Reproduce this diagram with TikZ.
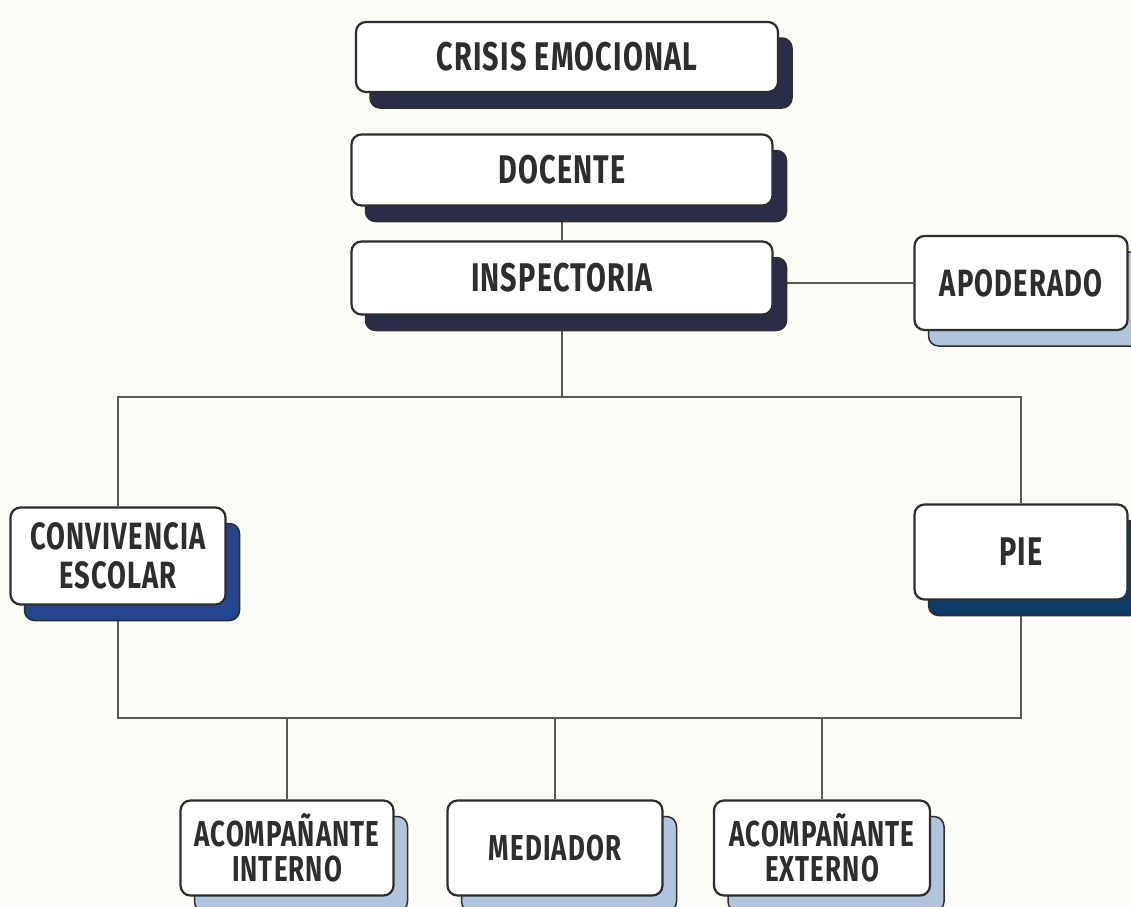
\documentclass[tikz,border=0pt]{standalone}
\usepackage{fontspec}
\setmainfont{Fira Sans}
\newfontfamily\boxfont[FakeStretch=0.72,LetterSpace=3]{Fira Sans}
\usetikzlibrary{shadows,backgrounds}
\definecolor{navy}{HTML}{2B2D47}
\definecolor{royal}{HTML}{26458F}
\definecolor{deepblue}{HTML}{0F3B68}
\definecolor{pale}{HTML}{B2C4DC}
\definecolor{ink}{HTML}{2E2E2E}
\definecolor{paper}{HTML}{FCFCF7}

\tikzset{
  card/.style={draw=ink, line width=2.2pt, fill=white, rounded corners=10pt,
    text=ink, align=center, inner sep=0pt,
    font=\boxfont\bfseries\fontsize{38}{39}\selectfont},
  shade/.style={copy shadow={shadow xshift=14pt, shadow yshift=-16pt,
    fill=#1, draw=ink, line width=1.5pt}},
  link/.style={draw=ink!80, line width=1.3pt}
}

\begin{document}
\begin{tikzpicture}[x=1pt, y=-1pt]
\useasboundingbox (0,0) rectangle (1131,906);

\node[card, shade=navy, minimum width=422pt, minimum height=70pt,
  font=\boxfont\bfseries\fontsize{40}{40}\selectfont] (crisis) at (567,57) {CRISIS EMOCIONAL};
\node[card, shade=navy, minimum width=421pt, minimum height=71pt,
  font=\boxfont\bfseries\fontsize{40}{40}\selectfont] (docente) at (562,170) {DOCENTE};
\node[card, shade=navy, minimum width=421pt, minimum height=73pt,
  font=\boxfont\bfseries\fontsize{40}{40}\selectfont] (insp) at (562,278) {INSPECTORIA};
\node[card, shade=pale, minimum width=213pt, minimum height=94pt] (apod) at (1021,283) {APODERADO};

\node[card, shade=royal, minimum width=215pt, minimum height=97pt] (conv) at (118,556) {CONVIVENCIA\\ESCOLAR};
\node[card, shade=deepblue, minimum width=213pt, minimum height=95pt,
  font=\boxfont\bfseries\fontsize{40}{40}\selectfont] (pie) at (1021,552) {PIE};

\node[card, shade=pale, minimum width=213pt, minimum height=95pt,
  font=\boxfont\bfseries\fontsize{36}{35}\selectfont] (aint) at (287,848) {ACOMPAÑANTE\\INTERNO};
\node[card, shade=pale, minimum width=215pt, minimum height=95pt,
  font=\boxfont\bfseries\fontsize{36}{35}\selectfont] (med) at (555,848) {MEDIADOR};
\node[card, shade=pale, minimum width=216pt, minimum height=95pt,
  font=\boxfont\bfseries\fontsize{36}{35}\selectfont] (aext) at (822,848) {ACOMPAÑANTE\\EXTERNO};

\coordinate (split) at (562,397);
\coordinate (join) at (562,718);

\begin{scope}[on background layer]
\fill[paper] (0,0) rectangle (1131,906);
\draw[link] (docente.south) -- (insp.north);
\draw[link] (apod.west) -- (apod.west -| insp.east);
\draw[link] (insp.south) -- (split);
\draw[link] (conv.north) |- (split) -| (pie.north);
\draw[link] (conv.south) |- (join) -| (pie.south);
\foreach \n in {aint,med,aext}
  \draw[link] (\n.north) -- (\n.north |- join);
\end{scope}
\end{tikzpicture}
\end{document}
